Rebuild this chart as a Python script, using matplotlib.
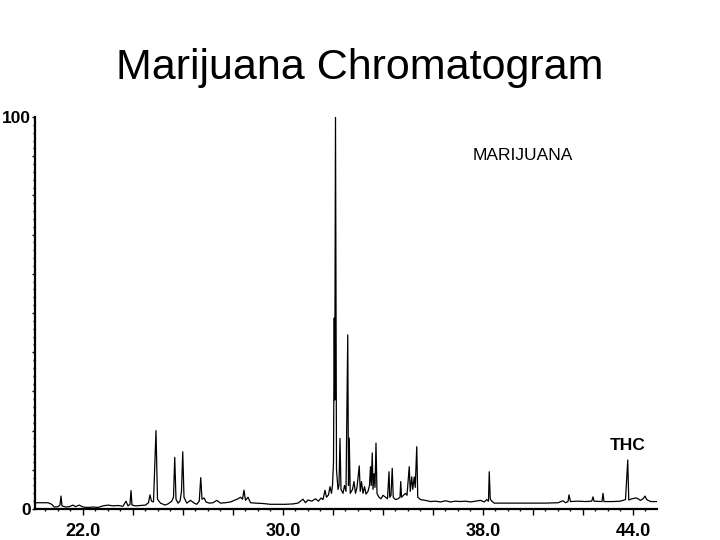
import matplotlib
matplotlib.use("Agg")
import matplotlib.pyplot as plt
from matplotlib.ticker import FixedLocator, MultipleLocator, FixedFormatter

# retention time (min) and relative abundance (%)
rt = [20.10, 20.60, 20.75, 20.85, 21.00, 21.08, 21.12, 21.16, 21.30, 21.45,
      21.60, 21.70, 21.85, 22.00, 22.20, 22.40, 22.60, 22.80, 23.00, 23.20,
      23.40, 23.60, 23.72, 23.80, 23.88, 23.92, 23.96, 24.10, 24.30, 24.50,
      24.62, 24.68, 24.74, 24.82, 24.92, 24.98, 25.10, 25.28, 25.40, 25.55,
      25.62, 25.67, 25.72, 25.80, 25.88, 25.94, 25.99, 26.04, 26.15, 26.30,
      26.45, 26.55, 26.65, 26.71, 26.76, 26.85, 26.92, 27.05, 27.20, 27.35,
      27.50, 27.70, 27.90, 28.05, 28.20, 28.30, 28.38, 28.44, 28.50, 28.60,
      28.70, 28.90, 29.20, 29.50, 29.80, 30.10, 30.40, 30.60, 30.80, 30.90,
      31.00, 31.15, 31.30, 31.42, 31.52, 31.60, 31.68, 31.74, 31.82, 31.88,
      31.94, 31.98, 32.02, 32.05, 32.07, 32.10, 32.14, 32.20, 32.24, 32.28,
      32.32, 32.40, 32.46, 32.52, 32.59, 32.62, 32.65, 32.69, 32.78, 32.84,
      32.90, 32.96, 33.00, 33.05, 33.09, 33.14, 33.20, 33.26, 33.32, 33.40,
      33.46, 33.50, 33.53, 33.57, 33.60, 33.64, 33.68, 33.72, 33.76, 33.84,
      33.92, 34.00, 34.10, 34.18, 34.24, 34.27, 34.32, 34.37, 34.41, 34.50,
      34.60, 34.68, 34.71, 34.74, 34.82, 34.90, 34.96, 35.05, 35.09, 35.15,
      35.19, 35.25, 35.29, 35.35, 35.39, 35.50, 35.70, 35.90, 36.10, 36.30,
      36.50, 36.70, 36.90, 37.10, 37.30, 37.50, 37.70, 37.90, 38.05, 38.15,
      38.22, 38.25, 38.29, 38.35, 38.45, 38.70, 39.00, 39.50, 40.00, 40.50,
      41.00, 41.20, 41.30, 41.40, 41.44, 41.50, 41.80, 42.10, 42.35, 42.40,
      42.44, 42.76, 42.80, 42.84, 43.20, 43.50, 43.70, 43.79, 43.83, 43.95,
      44.10, 44.15, 44.30, 44.40, 44.48, 44.55, 44.70, 45.00]
abund = [1.6, 1.6, 1.2, 0.5, 0.6, 1.0, 3.3, 0.8, 0.5, 0.6,
         1.0, 0.6, 1.0, 0.5, 0.4, 0.5, 0.4, 0.8, 1.0, 0.8,
         0.9, 0.7, 2.0, 0.8, 1.2, 4.7, 1.0, 0.8, 0.9, 1.0,
         1.6, 3.6, 2.0, 1.8, 20.0, 2.5, 1.5, 1.0, 1.3, 2.0,
         3.0, 13.2, 2.5, 1.5, 2.0, 4.5, 14.6, 3.0, 1.5, 2.2,
         1.5, 1.2, 2.0, 8.0, 2.5, 2.8, 1.8, 1.5, 1.6, 2.2,
         1.5, 1.6, 1.8, 2.2, 2.6, 3.0, 2.5, 4.8, 2.2, 3.0,
         1.6, 1.5, 1.4, 1.2, 1.2, 1.2, 1.3, 1.5, 2.5, 1.6,
         2.3, 2.0, 2.6, 2.0, 2.8, 2.4, 4.8, 3.0, 3.6, 5.7,
         4.0, 6.0, 12.0, 48.7, 27.8, 100.0, 10.0, 5.0, 6.0, 18.0,
         5.0, 4.0, 6.0, 4.5, 44.4, 6.0, 18.1, 4.0, 5.0, 7.0,
         4.0, 5.5, 8.0, 11.0, 4.5, 7.0, 4.0, 5.7, 3.8, 4.5,
         6.0, 10.8, 6.0, 14.3, 5.0, 9.0, 5.5, 16.8, 4.0, 3.0,
         2.6, 3.5, 3.0, 2.6, 9.5, 3.0, 3.5, 10.4, 3.0, 2.4,
         2.6, 3.0, 7.0, 3.0, 3.5, 4.0, 3.5, 10.8, 4.5, 8.2,
         5.0, 8.2, 5.5, 15.9, 3.0, 2.4, 2.2, 1.9, 2.0, 1.8,
         2.1, 1.8, 2.0, 1.9, 2.0, 1.8, 2.0, 2.2, 1.8, 2.4,
         2.0, 9.5, 2.6, 2.0, 1.5, 1.5, 1.5, 1.5, 1.5, 1.5,
         1.6, 2.1, 1.6, 1.9, 3.6, 1.9, 2.0, 1.9, 2.0, 3.1,
         2.0, 1.9, 4.0, 1.9, 1.9, 2.0, 2.4, 12.5, 2.3, 2.6,
         2.8, 2.8, 2.2, 2.6, 3.3, 2.4, 1.9, 1.9]

x_major = [20, 22, 24, 26, 28, 30, 32, 34, 36, 38, 40, 42, 44]
x_labels = ["", "22.0", "", "", "", "30.0", "", "", "", "38.0", "", "", "44.0"]
y_major = [0, 10, 20, 30, 40, 50, 60, 70, 80, 90, 100]
y_labels = ["0", "", "", "", "", "", "", "", "", "", "100"]

plt.rcParams['font.family'] = ['Liberation Sans', 'DejaVu Sans']

fig = plt.figure(figsize=(7.2, 5.4), dpi=100)
fig.text(0.5, 0.874, "Marijuana Chromatogram", ha="center", va="center",
         fontsize=31)

ax = fig.add_axes([0.0486, 0.0574, 0.8639, 0.7259])
ax.plot(rt, abund, color="black", lw=0.9)
ax.set_xlim(20.08, 44.96)
ax.set_ylim(0, 100)

for s in ["top", "right"]:
  ax.spines[s].set_visible(False)
ax.spines["left"].set_linewidth(1.6)
ax.spines["bottom"].set_linewidth(1.6)

ax.xaxis.set_major_locator(FixedLocator(x_major))
ax.xaxis.set_major_formatter(FixedFormatter(x_labels))
ax.xaxis.set_minor_locator(MultipleLocator(0.5))
ax.yaxis.set_major_locator(FixedLocator(y_major))
ax.yaxis.set_major_formatter(FixedFormatter(y_labels))
ax.yaxis.set_minor_locator(MultipleLocator(2))

ax.tick_params(axis="x", which="major", direction="out", length=4, width=1,
               pad=6, labelsize=13)
ax.tick_params(axis="x", which="minor", direction="out", length=1.5, width=1)
ax.tick_params(axis="y", which="major", direction="out", length=2.5, width=1,
               pad=0.5, labelsize=12.5)
ax.tick_params(axis="y", which="minor", direction="out", length=1.5, width=1)
for lab in ax.get_xticklabels() + ax.get_yticklabels():
  lab.set_fontweight("bold")

ax.text(37.6, 90.3, "MARIJUANA", fontsize=12.5, ha="left", va="center")
ax.text(43.8, 16.3, "THC", fontsize=12.5, fontweight="bold", ha="center",
        va="center")

fig.savefig("out.png", dpi=100)
